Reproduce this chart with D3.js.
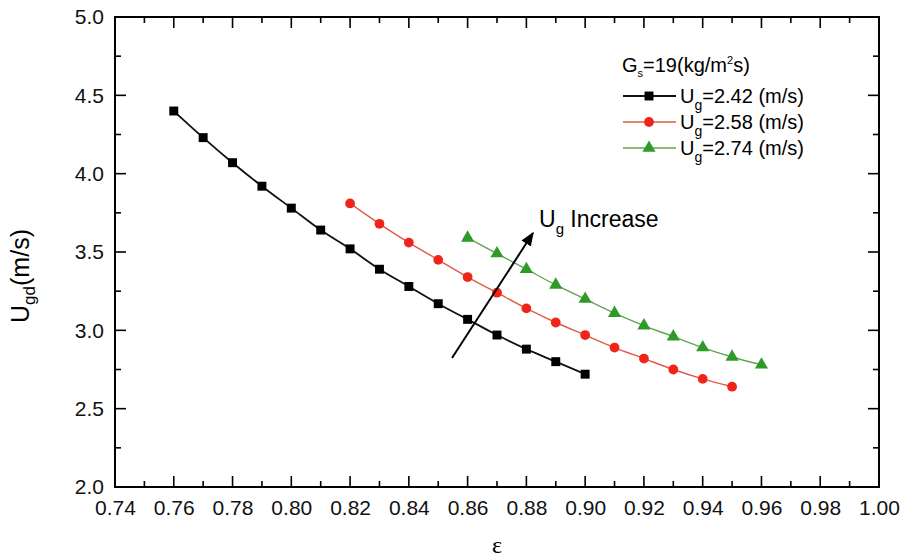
<!DOCTYPE html>
<html><head><meta charset="utf-8">
<script src="https://cdn.jsdelivr.net/npm/d3@7"></script>
<style>body{margin:0;background:#fff}svg{display:block;font-family:"Liberation Sans",Arial,sans-serif}</style>
</head><body><svg id="c" width="901" height="560"></svg>
<script>
const xTicks = [0.74,0.76,0.78,0.80,0.82,0.84,0.86,0.88,0.90,0.92,0.94,0.96,0.98,1.00];
const yTicks = [2.0,2.5,3.0,3.5,4.0,4.5,5.0];
const epsBlack = [0.76,0.77,0.78,0.79,0.80,0.81,0.82,0.83,0.84,0.85,0.86,0.87,0.88,0.89,0.90];
const ugdBlack = [4.40,4.23,4.07,3.92,3.78,3.64,3.52,3.39,3.28,3.17,3.07,2.97,2.88,2.80,2.72];
const epsRed = [0.82,0.83,0.84,0.85,0.86,0.87,0.88,0.89,0.90,0.91,0.92,0.93,0.94,0.95];
const ugdRed = [3.81,3.68,3.56,3.45,3.34,3.24,3.14,3.05,2.97,2.89,2.82,2.75,2.69,2.64];
const epsGreen = [0.86,0.87,0.88,0.89,0.90,0.91,0.92,0.93,0.94,0.95,0.96];
const ugdGreen = [3.59,3.49,3.39,3.29,3.20,3.11,3.03,2.96,2.89,2.83,2.78];
const seriesNames = ["=2.42 (m/s)","=2.58 (m/s)","=2.74 (m/s)"];

const svg = d3.select("#c");
const L=115,R=879,T=17,B=487;
const x = d3.scaleLinear().domain([0.74,1.00]).range([L,R]);
const y = d3.scaleLinear().domain([2.0,5.0]).range([B,T]);

const minorX = d3.range(0,27).map(i=>0.74+i*0.01).filter((v,i)=>i%2===1);
const minorY = d3.range(0,13).map(i=>2+i*0.25).filter((v,i)=>i%2===1);

svg.append("rect").attr("x",L).attr("y",T).attr("width",R-L).attr("height",B-T)
  .attr("fill","none").attr("stroke","#000").attr("stroke-width",2);

const g = svg.append("g");
function ticksX(vals,len,yy,dir){vals.forEach(v=>g.append("line").attr("x1",x(v)).attr("x2",x(v)).attr("y1",yy).attr("y2",yy+dir*len).attr("stroke","#000").attr("stroke-width",1.6));}
function ticksY(vals,len,xx,dir){vals.forEach(v=>g.append("line").attr("y1",y(v)).attr("y2",y(v)).attr("x1",xx).attr("x2",xx+dir*len).attr("stroke","#000").attr("stroke-width",1.6));}
ticksX(xTicks.slice(1,-1),11,B,-1); ticksX(minorX,6,B,-1);
ticksX(xTicks.slice(1,-1),11,T,1); ticksX(minorX,6,T,1);
ticksY(yTicks.slice(1,-1),11,L,1); ticksY(minorY,6,L,1);
ticksY(yTicks.slice(1,-1),11,R,-1); ticksY(minorY,6,R,-1);

const ax = svg.append("g").attr("transform",`translate(0,${B})`)
  .call(d3.axisBottom(x).tickValues(xTicks).tickFormat(d3.format(".2f")).tickSize(0).tickPadding(13));
ax.select(".domain").remove();
ax.selectAll("text").attr("font-size",21).attr("font-family","Liberation Sans, Arial, sans-serif").attr("fill","#111");
const ay = svg.append("g").attr("transform",`translate(${L},0)`)
  .call(d3.axisLeft(y).tickValues(yTicks).tickFormat(d3.format(".1f")).tickSize(0).tickPadding(11));
ay.select(".domain").remove();
ay.selectAll("text").attr("font-size",21).attr("font-family","Liberation Sans, Arial, sans-serif").attr("fill","#111");

svg.append("text").attr("x",497).attr("y",553).attr("text-anchor","middle")
  .attr("font-family","Liberation Serif, serif").attr("font-size",24).text("ε");
const yt = svg.append("text").attr("transform","translate(29,276) rotate(-90)").attr("text-anchor","middle")
  .attr("font-size",25);
yt.append("tspan").text("U");
yt.append("tspan").attr("font-size",17).attr("dy",6).text("gd");
yt.append("tspan").attr("dy",-6).text("(m/s)");

const series = [
  {eps:epsBlack,v:ugdBlack,line:"#111",fill:"#000",shape:d3.symbolSquare,size:80,lw:1.8},
  {eps:epsRed,v:ugdRed,line:"#e05a48",fill:"#f0251a",shape:d3.symbolCircle,size:75,lw:1.4},
  {eps:epsGreen,v:ugdGreen,line:"#62a452",fill:"#2f9a2a",shape:d3.symbolTriangle,size:75,lw:1.4}
];
const lineGen = d3.line().x(d=>x(d[0])).y(d=>y(d[1])).curve(d3.curveMonotoneX);
series.forEach(s=>{
  const pts = s.eps.map((e,i)=>[e,s.v[i]]);
  svg.append("path").attr("d",lineGen(pts)).attr("fill","none").attr("stroke",s.line).attr("stroke-width",s.lw);
  svg.selectAll(null).data(pts).enter().append("path")
    .attr("d",d3.symbol().type(s.shape).size(s.size))
    .attr("transform",d=>`translate(${x(d[0])},${y(d[1])})`)
    .attr("fill",s.fill);
});

svg.append("defs").append("marker").attr("id","ah").attr("viewBox","0 0 10 10").attr("refX",9).attr("refY",5)
  .attr("markerWidth",7).attr("markerHeight",7).attr("orient","auto")
  .append("path").attr("d","M0,1 L10,5 L0,9 z").attr("fill","#000");
svg.append("line").attr("x1",452).attr("y1",358).attr("x2",533).attr("y2",233)
  .attr("stroke","#000").attr("stroke-width",2).attr("marker-end","url(#ah)");
const at = svg.append("text").attr("x",539).attr("y",227).attr("font-size",23);
at.append("tspan").text("U");
at.append("tspan").attr("font-size",15).attr("dy",7).text("g");
at.append("tspan").attr("dy",-7).text(" Increase");

const lt = svg.append("text").attr("x",622).attr("y",72).attr("font-size",20);
lt.append("tspan").text("G");
lt.append("tspan").attr("font-size",11).attr("dy",5).text("s");
lt.append("tspan").attr("dy",-5).text("=19(kg/m");
lt.append("tspan").attr("font-size",11).attr("dy",-8).text("2");
lt.append("tspan").attr("dy",8).text("s)");
const ly = [96,122,148];
series.forEach((s,i)=>{
  svg.append("line").attr("x1",623).attr("x2",676).attr("y1",ly[i]).attr("y2",ly[i]).attr("stroke",s.line).attr("stroke-width",s.lw);
  svg.append("path").attr("d",d3.symbol().type(s.shape).size(s.size)).attr("transform",`translate(649,${ly[i]})`).attr("fill",s.fill);
  const t = svg.append("text").attr("x",680).attr("y",ly[i]+7).attr("font-size",20);
  t.append("tspan").text("U");
  t.append("tspan").attr("font-size",14).attr("dy",7).text("g");
  t.append("tspan").attr("dy",-7).text(seriesNames[i]);
});
</script></body></html>
